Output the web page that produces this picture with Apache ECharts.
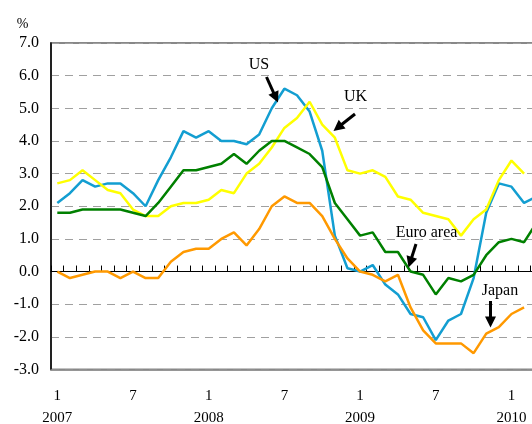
<!DOCTYPE html>
<html>
<head>
<meta charset="utf-8">
<script src="https://cdn.jsdelivr.net/npm/echarts@6/dist/echarts.min.js"></script>
<style>
html,body{margin:0;padding:0;background:#fff;}
#c{width:532px;height:424px;}
</style>
</head>
<body>
<div id="c"></div>
<script>
// Monthly categories Jan 2007 - Mar 2010
const months = [];
for (let y = 2007; y <= 2010; y++) {
  for (let m = 1; m <= 12; m++) {
    if (y === 2010 && m > 3) break;
    months.push(y + '-' + (m < 10 ? '0' + m : m));
  }
}
const usValues = [2.1,2.4,2.8,2.6,2.7,2.7,2.4,2.0,2.8,3.5,4.3,4.1,
                  4.3,4.0,4.0,3.9,4.2,5.0,5.6,5.4,4.9,3.7,1.1,0.1,
                  0.0,0.2,-0.4,-0.7,-1.3,-1.4,-2.1,-1.5,-1.3,-0.2,1.8,2.7,
                  2.6,2.1,2.3];
const ukValues = [2.7,2.8,3.1,2.8,2.5,2.4,1.9,1.7,1.7,2.0,2.1,2.1,
                  2.2,2.5,2.4,3.0,3.3,3.8,4.4,4.7,5.2,4.5,4.1,3.1,
                  3.0,3.1,2.9,2.3,2.2,1.8,1.7,1.6,1.1,1.6,1.9,2.8,
                  3.4,3.0];
const euroValues = [1.8,1.8,1.9,1.9,1.9,1.9,1.8,1.7,2.1,2.6,3.1,3.1,
                    3.2,3.3,3.6,3.3,3.7,4.0,4.0,3.8,3.6,3.2,2.1,1.6,
                    1.1,1.2,0.6,0.6,0.0,-0.1,-0.7,-0.2,-0.3,-0.1,0.5,0.9,
                    1.0,0.9,1.5];
const japanValues = [0.0,-0.2,-0.1,0.0,0.0,-0.2,0.0,-0.2,-0.2,0.3,0.6,0.7,
                     0.7,1.0,1.2,0.8,1.3,2.0,2.3,2.1,2.1,1.7,1.0,0.4,
                     0.0,-0.1,-0.3,-0.1,-1.1,-1.8,-2.2,-2.2,-2.2,-2.5,-1.9,-1.7,
                     -1.3,-1.1];
const yTicks = [-3,-2,-1,0,1,2,3,4,5,6,7];

const FONT = "'Liberation Serif','Times New Roman',serif";

function arrow(x1, y1, x2, y2) {
  const dx = x2 - x1, dy = y2 - y1, L = Math.hypot(dx, dy);
  const ux = dx / L, uy = dy / L, hl = 11, hw = 5.5;
  const bx = x2 - ux * hl, by = y2 - uy * hl;
  return [
    {type: 'line', z: 100, shape: {x1: x1, y1: y1, x2: bx + ux, y2: by + uy}, style: {stroke: '#000', lineWidth: 3}},
    {type: 'polygon', z: 100, shape: {points: [[x2, y2], [bx - uy * hw, by + ux * hw], [bx + uy * hw, by - ux * hw]]}, style: {fill: '#000'}}
  ];
}
function label(text, x, y, size) {
  return {type: 'text', z: 100, x: x, y: y, style: {text: text, fill: '#000', font: (size || 16) + 'px ' + FONT, align: 'center', verticalAlign: 'middle'}};
}

const chart = echarts.init(document.getElementById('c'), null, {renderer: 'canvas'});
const graphics = [].concat(
  [label('%', 22.5, 24.5, 14)],
  [label('US', 259, 64.5)], arrow(266.5, 77, 278, 102.5),
  [label('UK', 355.5, 96.5)], arrow(355, 114, 333.5, 131),
  [label('Euro area', 426.5, 233)], arrow(416, 244, 408.5, 267.5),
  [label('Japan', 500, 291)], arrow(490.5, 301, 490.5, 327.5)
);

chart.setOption({
  animation: false,
  grid: {left: 51, top: 43, width: 492, height: 326.5, containLabel: false, outerBoundsMode: 'none',
         show: true, borderColor: '#888', borderWidth: 2, backgroundColor: 'transparent'},
  xAxis: [
    {
      type: 'category', data: months, position: 'bottom', boundaryGap: true,
      axisLine: {onZero: false, lineStyle: {color: '#888', width: 1.5}},
      axisTick: {show: false},
      axisLabel: {
        interval: function (i) { return i % 6 === 0; },
        formatter: function (v) {
          const p = v.split('-');
          const m = parseInt(p[1], 10);
          return m === 1 ? '1\n' + p[0] : String(m);
        },
        margin: 16, lineHeight: 22, color: '#000', fontFamily: FONT, fontSize: 15
      },
      splitLine: {show: false}
    },
    {
      type: 'category', data: months, position: 'bottom', boundaryGap: true,
      axisLine: {onZero: true, lineStyle: {color: '#000', width: 1}},
      axisTick: {show: true, interval: 0, inside: true, length: 6, lineStyle: {color: '#000', width: 1}},
      axisLabel: {show: false, interval: 0},
      splitLine: {show: false}
    }
  ],
  yAxis: {
    type: 'value', min: -3, max: 7, interval: 1,
    axisLine: {show: true, lineStyle: {color: '#000', width: 1.5}},
    axisTick: {show: false},
    axisLabel: {formatter: function (v) { return v.toFixed(1); }, margin: 12, color: '#000', fontFamily: FONT, fontSize: 16},
    splitLine: {show: true, lineStyle: {color: '#a0a0a0', type: [8, 6], width: 1}}
  },
  series: [
    {name: 'US', type: 'line', data: usValues, symbol: 'none', lineStyle: {color: '#139ED1', width: 2.5}, itemStyle: {color: '#139ED1'}, z: 2},
    {name: 'UK', type: 'line', data: ukValues, symbol: 'none', lineStyle: {color: '#FFFF00', width: 2.5}, itemStyle: {color: '#FFFF00'}, z: 2},
    {name: 'Euro area', type: 'line', data: euroValues, symbol: 'none', lineStyle: {color: '#008000', width: 2.5}, itemStyle: {color: '#008000'}, z: 2},
    {name: 'Japan', type: 'line', data: japanValues, symbol: 'none', lineStyle: {color: '#FF9900', width: 2.5}, itemStyle: {color: '#FF9900'}, z: 2}
  ],
  graphic: graphics
});
</script>
</body>
</html>
